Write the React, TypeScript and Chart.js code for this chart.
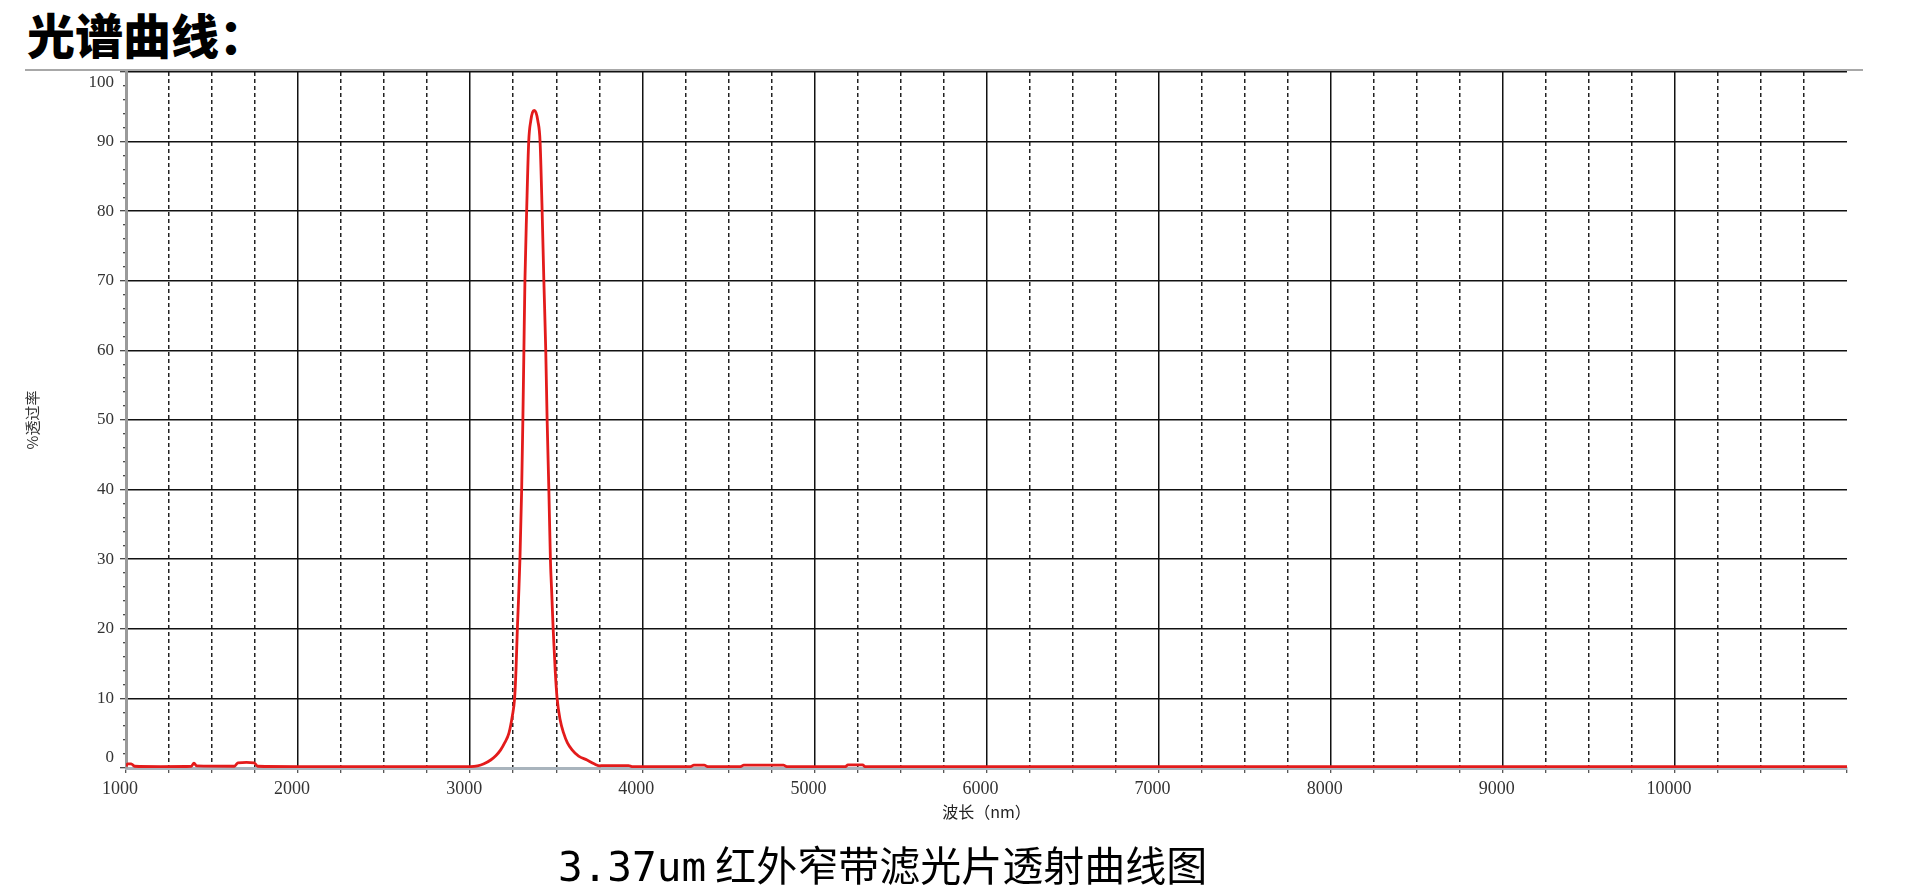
import React, { useEffect, useRef } from 'react';
import { Chart, registerables } from 'chart.js';

Chart.register(...registerables);

// ---- data ----
const wavelengths = [
  1000, 1010, 1030, 1050, 1200, 1380, 1395, 1410, 1630, 1650, 1700, 1745, 1765,
  2000, 2500, 3000, 3043, 3080, 3119, 3150, 3177, 3200, 3225, 3245, 3258, 3266,
  3274, 3282, 3289, 3299, 3306, 3312, 3318, 3328, 3340, 3352, 3362, 3372, 3382,
  3393, 3406, 3418, 3428, 3439, 3447, 3457, 3466, 3474, 3482, 3494, 3505, 3522,
  3543, 3565, 3592, 3630, 3679, 3720, 3755, 3760, 3920, 3940, 4280, 4300, 4360,
  4380, 4570, 4590, 4820, 4840, 5180, 5195, 5280, 5295, 8000, 11000,
];
const transmission = [
  0.25, 0.6, 0.6, 0.25, 0.2, 0.25, 0.7, 0.3, 0.25, 0.75, 0.8, 0.75, 0.25,
  0.2, 0.2, 0.2, 0.3, 0.6, 1.15, 1.8, 2.6, 3.6, 5, 7.5, 10, 14,
  20, 25, 30, 40, 50, 60, 70, 80, 90, 93, 94.2, 94.5, 94.2,
  93, 90, 80, 70, 60, 50, 40, 30, 25, 20, 14, 10, 7,
  5, 3.6, 2.6, 1.7, 1.15, 0.6, 0.3, 0.35, 0.35, 0.2, 0.2, 0.4, 0.4,
  0.2, 0.2, 0.4, 0.4, 0.2, 0.2, 0.45, 0.45, 0.2, 0.2, 0.2,
];
const xTickLabels = [1000, 2000, 3000, 4000, 5000, 6000, 7000, 8000, 9000, 10000];
const yTickLabels = [0, 10, 20, 30, 40, 50, 60, 70, 80, 90, 100];

const pageTitle = '光谱曲线：';
const captionNum = '3.37um';
const captionText = '红外窄带滤光片透射曲线图';
const xTitle = '波长（nm）';
const yTitle = '%透过率';

export default function App() {
  const ref = useRef<HTMLCanvasElement>(null);

  useEffect(() => {
    const chart = new Chart(ref.current as HTMLCanvasElement, {
      type: 'line',
      data: {
        datasets: [
          {
            data: wavelengths.map((x, i) => ({ x, y: transmission[i] })),
            borderColor: '#e31b1b',
            borderWidth: 2.8,
            pointRadius: 0,
            cubicInterpolationMode: 'monotone',
            fill: false,
          },
        ],
      },
      options: {
        responsive: false,
        animation: false,
        events: [],
        layout: { padding: { left: 0, top: 72, right: 73, bottom: 0 } },
        plugins: { legend: { display: false }, tooltip: { enabled: false } },
        scales: {
          x: {
            type: 'linear',
            position: 'bottom',
            min: 1000,
            max: 11000,
            afterFit: (s: any) => {
              s.height = 127;
            },
            ticks: {
              stepSize: 250,
              autoSkip: false,
              maxRotation: 0,
              minRotation: 0,
              maxTicksLimit: 100,
              labelOffset: -6,
              padding: 5,
              font: { family: 'Liberation Serif', size: 18 },
              color: '#333',
              callback: (v: any) => (xTickLabels.includes(Number(v)) ? String(v) : ''),
            },
            grid: {
              color: (c: any) => {
                const v = c.tick ? c.tick.value : 0;
                if (v === 1000 || v === 11000) return 'rgba(0,0,0,0)';
                return v % 1000 === 0 ? '#111' : '#222';
              },
              lineWidth: 1.5,
              tickLength: 5,
              tickColor: '#222',
              tickWidth: 1,
            },
            border: {
              display: true,
              color: '#a9b4bd',
              width: 3,
              dash: (c: any) => (c.tick && c.tick.value % 1000 !== 0 ? [4, 3] : []),
            },
            title: {
              display: true,
              text: xTitle,
              font: { family: 'Noto Sans CJK SC', size: 16 },
              color: '#222',
              padding: { top: 0, bottom: 73 },
            },
          },
          y: {
            type: 'linear',
            min: 0,
            max: 100,
            afterFit: (s: any) => {
              s.width = 126;
            },
            ticks: {
              stepSize: 2,
              autoSkip: false,
              maxTicksLimit: 100,
              padding: 6,
              font: { family: 'Liberation Serif', size: 17 },
              color: '#333',
              callback: (v: any) => {
                const n = Number(v);
                if (!yTickLabels.includes(n)) return '';
                if (n === 100) return ['', '100'];
                if (n === 0) return ['0', ''];
                return String(n);
              },
            },
            grid: {
              color: (c: any) => {
                const v = c.tick ? c.tick.value : 0;
                return v % 10 === 0 && v !== 0 ? '#111' : 'rgba(0,0,0,0)';
              },
              lineWidth: 1.5,
              tickLength: 6,
              tickColor: '#111',
              tickWidth: 1,
              tickBorderDash: (c: any) => (c.tick && c.tick.value % 10 !== 0 ? [0, 3, 3, 50] : []),
            },
            border: { display: true, color: '#9a9a9a', width: 3 },
            title: {
              display: true,
              text: yTitle,
              font: { family: 'Noto Sans CJK SC', size: 15 },
              color: '#333',
              padding: { top: 23, bottom: 0 },
            },
          },
        },
      },
    } as any);
    return () => chart.destroy();
  }, []);

  return (
    <div style={{ position: 'fixed', left: 0, top: 0, width: 1920, height: 895, background: '#fff', overflow: 'hidden' }}>
      <div
        style={{
          position: 'absolute',
          left: 27,
          top: 9,
          fontFamily: '"Noto Sans CJK SC"',
          fontWeight: 900,
          fontSize: 48,
          lineHeight: '48px',
          color: '#000',
          whiteSpace: 'nowrap',
        }}
      >
        {pageTitle}
      </div>
      <div style={{ position: 'absolute', left: 25, top: 69, width: 1838, height: 2, background: '#a8a8a8' }} />
      <canvas ref={ref} width={1920} height={895} style={{ position: 'absolute', left: 0, top: 0 }} />
      <div
        style={{
          position: 'absolute',
          left: 558,
          top: 843,
          fontSize: 41,
          lineHeight: '41px',
          color: '#000',
          whiteSpace: 'nowrap',
          fontFamily: '"Noto Sans CJK SC"',
        }}
      >
        <span style={{ fontFamily: '"DejaVu Sans Mono"' }}>{captionNum}</span>
        <span> {captionText}</span>
      </div>
    </div>
  );
}
